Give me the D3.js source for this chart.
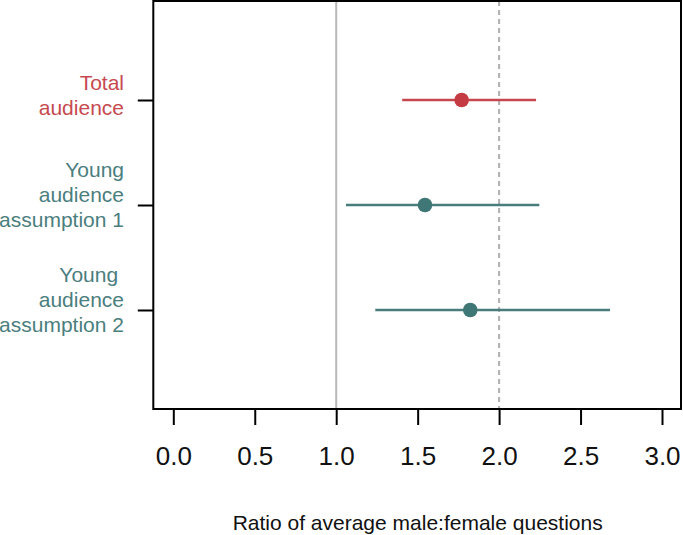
<!DOCTYPE html>
<html>
<head>
<meta charset="utf-8">
<script src="https://cdn.jsdelivr.net/npm/d3@7"></script>
<style>
  html, body { margin: 0; padding: 0; background: #fff; }
  svg { display: block; }
  text { font-family: "Liberation Sans", Arial, Helvetica, sans-serif; white-space: pre; }
</style>
</head>
<body>
<svg id="chart" width="683" height="535"></svg>
<script>
// ---- data ----
const categories = ["Total\naudience", "Young\naudience\nassumption 1", "Young \naudience\nassumption 2"];
const estimates = [1.77, 1.545, 1.823];
const lowerCI  = [1.405, 1.06, 1.24];
const upperCI  = [2.227, 2.247, 2.681];
const groups   = ["total", "young", "young"];
const xTicks   = [0, 0.5, 1, 1.5, 2, 2.5, 3];
const xTitle   = "Ratio of average male:female questions";
const refSolid = 1;
const refDashed = 2;

// ---- styles ----
const markColor  = { total: "#c53b43", young: "#3f7676" };
const lineColor  = { total: "#c8474f", young: "#4a7c7c" };
const labelColor = { total: "#c64a50", young: "#4b7e7e" };

const svg = d3.select("#chart");

const x = d3.scaleLinear().domain([0, 3]).range([173.3, 662]);
const y = d3.scalePoint().domain(d3.range(categories.length)).range([1, 409]).padding(0.943);

const box = { left: 153.3, right: 681, top: 1, bottom: 409 };

// reference lines
svg.append("line")
  .attr("x1", x(refSolid)).attr("x2", x(refSolid))
  .attr("y1", box.top).attr("y2", box.bottom)
  .attr("stroke", "#b8b8b8").attr("stroke-width", 2);
svg.append("line")
  .attr("x1", x(refDashed)).attr("x2", x(refDashed))
  .attr("y1", box.top).attr("y2", box.bottom)
  .attr("stroke", "#b0b0b0").attr("stroke-width", 2)
  .attr("stroke-dasharray", "5,4");

// error bars
const rows = categories.map((c, i) => ({ c, i, est: estimates[i], lo: lowerCI[i], hi: upperCI[i], g: groups[i] }));
svg.selectAll(".ci").data(rows).join("line")
  .attr("class", "ci")
  .attr("x1", d => x(d.lo)).attr("x2", d => x(d.hi))
  .attr("y1", d => y(d.i)).attr("y2", d => y(d.i))
  .attr("stroke", d => lineColor[d.g]).attr("stroke-width", 2.5);
svg.selectAll(".pt").data(rows).join("circle")
  .attr("class", "pt")
  .attr("cx", d => x(d.est)).attr("cy", d => y(d.i))
  .attr("r", 7.3)
  .attr("fill", d => markColor[d.g]);

// box
svg.append("rect")
  .attr("x", box.left).attr("y", box.top)
  .attr("width", box.right - box.left).attr("height", box.bottom - box.top)
  .attr("fill", "none").attr("stroke", "#000").attr("stroke-width", 2);

// x axis
const xAxis = svg.append("g")
  .attr("transform", `translate(0,${box.bottom})`)
  .call(d3.axisBottom(x).tickValues(xTicks).tickFormat(d3.format(".1f")).tickSize(16).tickPadding(22));
xAxis.select(".domain").remove();
xAxis.selectAll(".tick line").attr("stroke", "#000").attr("stroke-width", 2);
xAxis.selectAll(".tick text")
  .attr("font-size", 26).attr("fill", "#111")
  .attr("font-family", "'Liberation Sans', Arial, sans-serif");

// y axis ticks
const yAxis = svg.append("g")
  .attr("transform", `translate(${box.left},0)`)
  .call(d3.axisLeft(y).tickSize(15.5).tickFormat(""));
yAxis.select(".domain").remove();
yAxis.selectAll(".tick line").attr("stroke", "#000").attr("stroke-width", 2);

// category labels (multi-line)
const lineH = 25;
const offsets = { 2: 2, 3: -3 };
rows.forEach(d => {
  const lines = d.c.split("\n");
  const n = lines.length;
  const t = svg.append("text")
    .attr("text-anchor", "end")
    .attr("font-size", 21)
    .attr("fill", labelColor[d.g]);
  lines.forEach((ln, k) => {
    t.append("tspan")
      .attr("x", 124)
      .attr("y", y(d.i) + (k - (n - 1) / 2) * lineH + (offsets[n] || 0))
      .text(ln);
  });
});

// x title
svg.append("text")
  .attr("x", (x(0) + x(3)) / 2)
  .attr("y", 530)
  .attr("text-anchor", "middle")
  .attr("font-size", 21)
  .attr("fill", "#111")
  .text(xTitle);
</script>
</body>
</html>
